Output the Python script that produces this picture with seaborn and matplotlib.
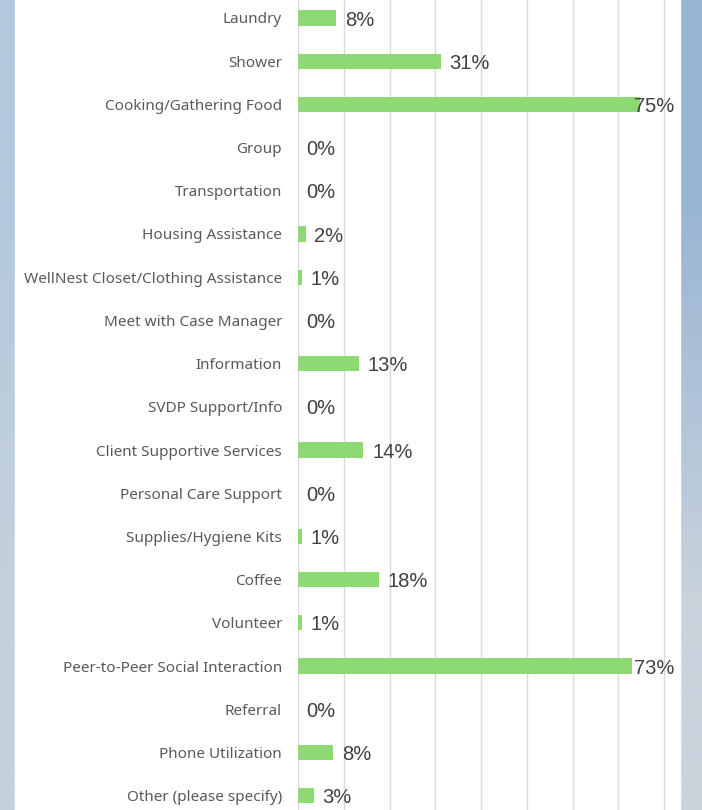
import numpy as np
import matplotlib
matplotlib.use("Agg")
import matplotlib.pyplot as plt
from matplotlib.colors import to_rgb
import seaborn as sns

# donnees (% des reponses)
services = ["Laundry", "Shower", "Cooking/Gathering Food", "Group", "Transportation",
            "Housing Assistance", "WellNest Closet/Clothing Assistance",
            "Meet with Case Manager", "Information", "SVDP Support/Info",
            "Client Supportive Services", "Personal Care Support",
            "Supplies/Hygiene Kits", "Coffee", "Volunteer",
            "Peer-to-Peer Social Interaction", "Referral", "Phone Utilization",
            "Other (please specify)"]
pct = [8.4, 31.2, 74.8, 0, 0, 1.7, 0.9, 0, 13.4, 0, 14.3, 0, 0.9, 17.7, 0.9,
       73.1, 0, 7.7, 3.4]
grid_ticks = list(range(0, 81, 10))

sns.set_theme(style="white")
plt.rcParams['font.family'] = ['Noto Sans', 'DejaVu Sans']

W, H = 702, 810
fig = plt.figure(figsize=(W / 100, H / 100), dpi=100)

# fond bleute flou (approximation)
bg = fig.add_axes([0, 0, 1, 1], zorder=-2)
corners = np.array([[to_rgb('#b3c8dc'), to_rgb('#98b5d3')],
                    [to_rgb('#c4d2de'), to_rgb('#c9d3dc')]])
bg.imshow(corners, extent=[0, 1, 0, 1], aspect='auto', interpolation='bilinear')
bg.add_patch(plt.Rectangle((15 / W, 0), (680 - 15) / W, 1, color='white'))
bg.set_xlim(0, 1)
bg.set_ylim(0, 1)
bg.axis('off')

ax = fig.add_axes([298 / W, 0, (680 - 298) / W, 1])
ax.set_facecolor('white')
sns.barplot(x=pct, y=services, color='#8ed973', width=0.35, saturation=1,
            orient='h', ax=ax, zorder=3, linewidth=0)

xmax = (680 - 298) / 4.575
ax.set_xlim(0, xmax)
ax.set_ylim(18.333, -0.4165)
ax.set_xticks(grid_ticks)
ax.set_xticklabels([])
ax.grid(axis='x', color='#d9d9d9', linewidth=1, zorder=0)
ax.grid(axis='y', visible=False)
ax.tick_params(axis='x', length=0)
ax.tick_params(axis='y', length=0, pad=11.5, labelsize=11, labelcolor='#595959')
for s in ax.spines.values():
    s.set_visible(False)
ax.set_xlabel('')
ax.set_ylabel('')

# etiquettes de valeur (repoussees a l'interieur si trop a droite)
for i, v in enumerate(pct):
    lab = f"{int(round(v))}%"
    if v > 70:
        ax.text(82.2, i + 0.05, lab, ha='right', va='center', fontsize=14.5,
                color='#404040', family=['Liberation Sans', 'DejaVu Sans'], zorder=4)
    else:
        ax.text(v + 1.9, i + 0.05, lab, ha='left', va='center', fontsize=14.5,
                color='#404040', family=['Liberation Sans', 'DejaVu Sans'], zorder=4)

fig.savefig('out.png', dpi=100)
